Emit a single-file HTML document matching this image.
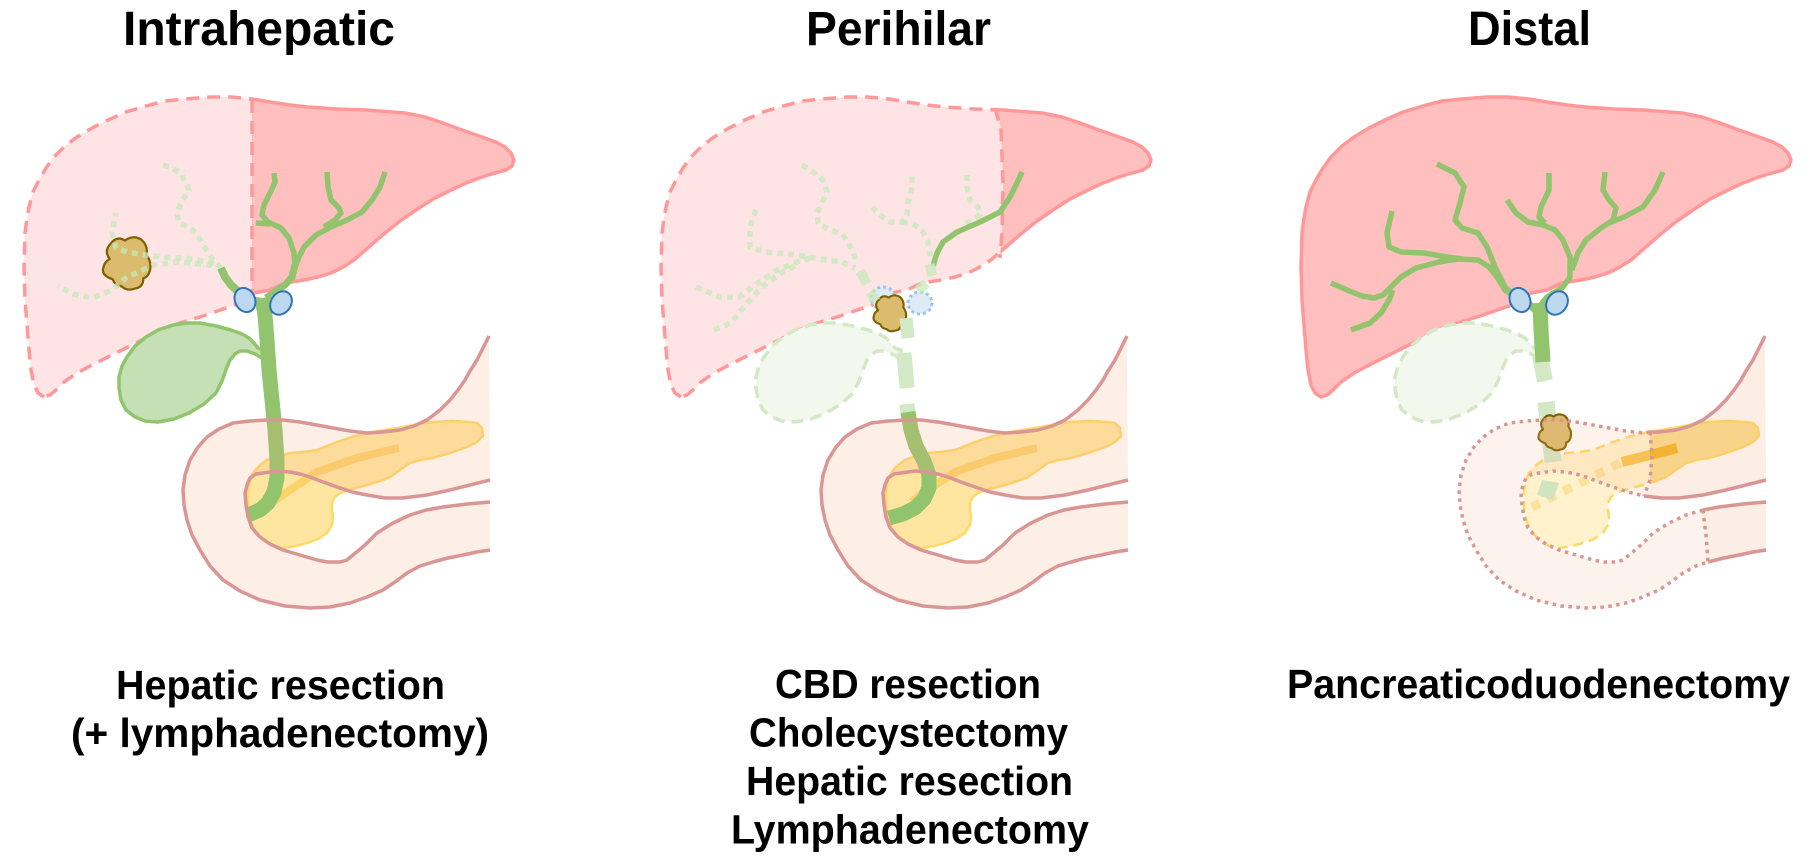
<!DOCTYPE html>
<html><head><meta charset="utf-8">
<style>
html,body{margin:0;padding:0;background:#fff;}
svg{display:block;}
text{font-family:"Liberation Sans",Arial,sans-serif;font-weight:bold;fill:#000;}
</style></head><body>
<svg width="1812" height="862" viewBox="0 0 1812 862" xmlns="http://www.w3.org/2000/svg">
<defs>
<path id="liver" d="M44,397 L38,393 L34,385 L31,370 L29,350 L27,325 L25,300 L24,267 L25,233 L27,218 L29,207 L33,192 L39,180 L46,168 L54,157 L65,146 L77,137 L92,128 L108,120 L126,112 L146,106 L165,101 L185,99 L210,97 L231,97 L252,99 L270,102 L290,105 L308,107 L337,109 L366,110 L405,113 L425,117 L443,123 L462,130 L482,137 L496,142 L505,147 L511,153 L514,160 L512,166 L506,170 L495,173 L482,177 L466,183 L451,190 L433,199 L416,210 L400,221 L385,233 L370,246 L354,260 L343,267 L331,273 L318,277 L304,280 L285,283 L270,290 L254,293 L235,305 L200,317 L180,323 L162,330 L140,341 L116,353 L96,363 L77,373 L64,382 L56,390 L50,395 Z"/>
<path id="gb" d="M264,359 L255,354 L247,351 L240,351 L235,354 L230,360 L227,367 L222,381 L216,393 L204,404 L189,413 L174,419 L158,422 L145,421 L135,417 L126,410 L121,400 L119,388 L119,377 L122,366 L127,357 L135,346 L146,337 L158,330 L173,325 L187,323 L200,323 L216,326 L231,330 L242,334 L249,338 L254,343 L258,348 L264,350 Z"/>
<path id="panc" d="M470,422 L452,421 L433,422 L418,424 L403,427 L385,430 L367,433 L352,437 L337,442 L317,450 L303,452 L290,453 L278,456 L267,460 L259,466 L253,473 L249,483 L248,493 L248,507 L250,520 L255,531 L263,540 L273,546 L283,548 L296,546 L307,543 L318,539 L327,533 L332,525 L333,517 L332,510 L332,503 L335,497 L340,493 L352,489 L367,485 L380,481 L390,477 L400,470 L410,463 L420,460 L433,458 L450,453 L467,447 L477,442 L483,436 L482,428 L477,423 Z"/>
<path id="duoFill" d="M489,336 L484,346 L477,360 L470,371 L465,380 L458,390 L450,400 L440,410 L427,420 L414,426 L400,430 L383,432 L367,433 L350,431 L333,428 L317,425 L300,422 L283,420 L267,420 L250,421 L233,423 L219,429 L207,437 L198,447 L190,460 L185,475 L183,490 L184,505 L187,520 L192,535 L200,550 L210,566 L223,580 L240,591 L260,600 L285,606 L310,608 L330,607 L350,603 L367,597 L383,590 L395,582 L407,573 L420,566 L433,562 L448,558 L463,555 L477,552 L490,550 L490,502 L467,504 L443,507 L426,510 L410,515 L393,523 L377,533 L365,545 L353,555 L347,560 L340,562 L328,562 L317,560 L300,555 L283,550 L270,544 L260,537 L252,528 L248,517 L246,505 L245,493 L247,485 L250,478 L256,474 L263,473 L277,471 L290,472 L300,474 L310,477 L323,482 L337,487 L352,492 L367,495 L385,498 L403,498 L427,495 L450,490 L470,485 L490,480 Z"/>
<path id="duoOuter" d="M489,336 L484,346 L477,360 L470,371 L465,380 L458,390 L450,400 L440,410 L427,420 L414,426 L400,430 L383,432 L367,433 L350,431 L333,428 L317,425 L300,422 L283,420 L267,420 L250,421 L233,423 L219,429 L207,437 L198,447 L190,460 L185,475 L183,490 L184,505 L187,520 L192,535 L200,550 L210,566 L223,580 L240,591 L260,600 L285,606 L310,608 L330,607 L350,603 L367,597 L383,590 L395,582 L407,573 L420,566 L433,562 L448,558 L463,555 L477,552 L490,550"/>
<path id="duoInner" d="M490,502 L467,504 L443,507 L426,510 L410,515 L393,523 L377,533 L365,545 L353,555 L347,560 L340,562 L328,562 L317,560 L300,555 L283,550 L270,544 L260,537 L252,528 L248,517 L246,505 L245,493 L247,485 L250,478 L256,474 L263,473 L277,471 L290,472 L300,474 L310,477 L323,482 L337,487 L352,492 L367,495 L385,498 L403,498 L427,495 L450,490 L470,485 L490,480"/>
<path id="tumor" d="M-16,-19 Q-10,-27 -2,-22 Q6,-28 14,-23 Q21,-17 19,-8 Q25,0 22,9 Q20,14 16,15 Q16,24 8,25 Q0,28 -5,23 Q-12,22 -14,16 Q-26,12 -23,4 Q-22,-1 -17,-4 Q-23,-12 -16,-19 Z"/>
<clipPath id="c1L"><rect x="0" y="0" width="252" height="460"/></clipPath>
<clipPath id="c1R"><rect x="252" y="0" width="320" height="460"/></clipPath>
<clipPath id="c2L"><polygon points="0,0 360,0 360,110 364,130 366,183 365,233 363,258 363,460 0,460"/></clipPath>
<clipPath id="c2R"><polygon points="360,0 600,0 600,460 363,460 363,258 365,233 366,183 364,130 360,110"/></clipPath>
<clipPath id="c3tail"><rect x="374" y="300" width="200" height="400"/></clipPath>
<clipPath id="c3head"><rect x="0" y="300" width="374" height="400"/></clipPath>
<clipPath id="c3rem"><polygon points="374,300 520,300 520,620 433,620 432,562 430,535 427,510 368,498 376,467 374,432"/></clipPath>
</defs>

<!-- ================= TITLES ================= -->
<text x="123" y="45" font-size="48" textLength="272" lengthAdjust="spacingAndGlyphs">Intrahepatic</text>
<text x="806" y="45" font-size="48" textLength="185" lengthAdjust="spacingAndGlyphs">Perihilar</text>
<text x="1468" y="45" font-size="48" textLength="123" lengthAdjust="spacingAndGlyphs">Distal</text>

<!-- ================= PANEL 1 ================= -->
<g>
  <use href="#liver" fill="#fee4e4" clip-path="url(#c1L)"/>
  <use href="#liver" fill="#ffbfbf" clip-path="url(#c1R)"/>
  <use href="#liver" fill="none" stroke="#ff9999" stroke-width="3.5" stroke-dasharray="13 8" clip-path="url(#c1L)"/>
  <use href="#liver" fill="none" stroke="#ff9999" stroke-width="3.5" stroke-linejoin="round" clip-path="url(#c1R)"/>
  <line x1="252" y1="100" x2="252" y2="292" stroke="#ff9999" stroke-width="3.5" stroke-dasharray="13 8"/>
</g>
<use href="#gb" fill="#c5e0b4" stroke="#92c46d" stroke-width="3.5" stroke-linejoin="round"/>
<!-- tumor p1 -->
<use href="#tumor" transform="translate(127,263) scale(1.02)" fill="#dbbb6e" stroke="#7f6000" stroke-width="2.2" stroke-linejoin="round"/>
<!-- dotted ducts p1 -->
<g fill="none" stroke="#c6e9bb" stroke-opacity="0.75" stroke-width="5.5" stroke-dasharray="6 5" stroke-linejoin="round">
  <path d="M221,268 L216,263 L208,253 L196,233 L189,227 L179,223 L177,213 L181,203 L187,193 L189,190 L181,173 L170,167 L162,165"/>
  <path d="M214,263 L185,258 L162,257 L146,255 L127,252 L116,248 L112,233 L116,213"/>
  <path d="M212,265 L177,262 L154,265 L127,277 L112,290 L92,298 L73,294 L58,286"/>
</g>
<!-- pancreas p1 -->
<use href="#panc" fill="#ffe6a0" stroke="#ffd966" stroke-width="2.5"/>
<path d="M399,448 L357,458 L317,472 L290,490 L273,502" fill="none" stroke="#fcd36a" stroke-width="8"/>
<!-- solid ducts p1 -->
<g fill="none" stroke="#92c46d" stroke-linejoin="round">
  <path stroke-width="5.5" d="M274,173 L275,182 L270,193 L264,205 L262,215 L268,222 L281,228 L289,238 L294,253 L295,267"/>
  <path stroke-width="5.5" d="M256,223 L270,224"/>
  <path stroke-width="5.5" d="M327,172 L328,187 L331,200 L339,208 L341,213 L335,220 L324,227"/>
  <path stroke-width="5.5" d="M385,172 L380,187 L372,200 L362,212 L347,220 L331,227 L316,235 L304,247 L299,257 L295,267"/>
  <path stroke-width="7" d="M295,265 L292,277 L285,285 L276,291 L266,298"/>
  <path stroke-width="8" d="M221,268 L225,277 L231,285 L241,294 L252,300 L262,302"/>
  <path stroke-width="15" d="M262,298 L265,315 L267,340 L269,370 L272,400 L275,430 L277,460 L277,478 L274,492 L268,503 L260,510 L248,515"/>
</g>
<!-- duodenum p1 -->
<use href="#duoFill" fill="#f4b183" fill-opacity="0.2"/>
<use href="#duoOuter" fill="none" stroke="#d99694" stroke-width="3.5" stroke-linejoin="round"/>
<use href="#duoInner" fill="none" stroke="#d99694" stroke-width="3.5" stroke-linejoin="round"/>
<!-- ellipses p1 -->
<ellipse cx="245" cy="300" rx="10" ry="12.5" transform="rotate(-25 245 300)" fill="#bdd7ee" stroke="#2e75b6" stroke-width="2"/>
<ellipse cx="281" cy="303" rx="10" ry="12.5" transform="rotate(35 281 303)" fill="#bdd7ee" stroke="#2e75b6" stroke-width="2"/>

<!-- ================= PANEL 2 ================= -->
<g transform="translate(637,0)">
  <use href="#liver" fill="#fee4e4" clip-path="url(#c2L)"/>
  <use href="#liver" fill="#ffbfbf" clip-path="url(#c2R)"/>
  <use href="#liver" fill="none" stroke="#ff9999" stroke-width="3.5" stroke-dasharray="13 8" clip-path="url(#c2L)"/>
  <use href="#liver" fill="none" stroke="#ff9999" stroke-width="3.5" stroke-linejoin="round" clip-path="url(#c2R)"/>
  <path d="M358,108 L364,130 L366,183 L365,233 L363,258" fill="none" stroke="#ff9999" stroke-width="3.5" stroke-dasharray="13 8"/>
  <use href="#gb" fill="#f3f8ef" stroke="#d3e8c4" stroke-width="3.5" stroke-dasharray="12 7"/>
</g>
<!-- dotted ducts p2 -->
<g fill="none" stroke="#c6e9bb" stroke-opacity="0.75" stroke-width="5.5" stroke-dasharray="6 5" stroke-linejoin="round">
  <path d="M802,165 L813,172 L823,180 L827,192 L822,203 L817,213 L818,223 L830,230 L842,234 L848,242 L853,252 L857,263"/>
  <path d="M756,210 L750,227 L750,247 L766,252 L797,255 L820,259 L842,262 L855,268"/>
  <path d="M696,287 L720,297 L739,297 L758,283 L777,270 L797,262 L810,258"/>
  <path d="M714,330 L731,323 L747,303 L762,287 L781,273 L797,265"/>
  <path d="M872,207 L880,215 L890,222 L902,222 L907,215 L908,203 L912,187 L912,175"/>
  <path d="M902,222 L915,225 L923,232 L928,242 L930,253 L931,262"/>
  <path d="M967,175 L967,187 L970,200 L978,207 L980,215 L973,220 L965,224"/>
</g>
<path d="M1022,172 L1016,185 L1010,197 L1000,212 L980,222 L957,232 L943,242 L937,253 L933,266" fill="none" stroke="#92c46d" stroke-width="5.5" stroke-linejoin="round"/>
<!-- dotted ellipses p2 -->
<ellipse cx="883" cy="298" rx="12" ry="11" fill="#deebf7" stroke="#9dc3e6" stroke-width="3" stroke-dasharray="3 3"/>
<ellipse cx="920" cy="303" rx="12" ry="11" fill="#deebf7" stroke="#9dc3e6" stroke-width="3" stroke-dasharray="3 3"/>
<!-- tumor p2 -->
<use href="#tumor" transform="translate(890,313) scale(0.7)" fill="#dbbb6e" stroke="#7f6000" stroke-width="3" stroke-linejoin="round"/>
<!-- light thick segments p2 -->
<g stroke="#c6e9bb" stroke-opacity="0.75" fill="none">
  <path stroke-width="10" d="M860,271 L867,284"/>
  <path stroke-width="10" d="M930,264 L932,276"/>
  <path stroke-width="10" d="M926,283 L918,291"/>
  <path stroke-width="10" d="M870,292 L876,301"/>
</g>
<g stroke="#d3e8c4" fill="none">
  <path stroke-width="13" d="M906,318 L908,338"/>
  <path stroke-width="15" d="M904,353 L907,388"/>
  <path stroke-width="15" d="M907,404 L908,414"/>
</g>
<!-- pancreas p2 -->
<g transform="translate(638,0)">
  <use href="#panc" fill="#ffe6a0" stroke="#ffd966" stroke-width="2.5"/>
  <path d="M399,448 L357,458 L317,472 L290,490 L273,502" fill="none" stroke="#fcd36a" stroke-width="8"/>
</g>
<path d="M908,412 L911,430 L916,446 L924,461 L929,475 L929,488 L924,499 L915,508 L903,514 L889,518" fill="none" stroke="#92c46d" stroke-width="15" stroke-linejoin="round"/>
<g transform="translate(638,0)">
  <use href="#duoFill" fill="#f4b183" fill-opacity="0.2"/>
  <use href="#duoOuter" fill="none" stroke="#d99694" stroke-width="3.5" stroke-linejoin="round"/>
  <use href="#duoInner" fill="none" stroke="#d99694" stroke-width="3.5" stroke-linejoin="round"/>
</g>

<!-- ================= PANEL 3 ================= -->
<g transform="translate(1277,0)">
  <use href="#liver" fill="#ffbfbf" stroke="#ff9999" stroke-width="3.5" stroke-linejoin="round"/>
</g>
<g fill="none" stroke="#92c46d" stroke-width="5.5" stroke-linejoin="round">
  <path d="M1331,283 L1347,290 L1362,296 L1374,298 L1383,295 L1391,287 L1401,277 L1416,268 L1439,262 L1458,259 L1478,260 L1489,267 L1497,277 L1505,290 L1516,298"/>
  <path d="M1351,330 L1370,323 L1381,313 L1389,300 L1393,290"/>
  <path d="M1392,211 L1387,233 L1389,247 L1401,252 L1424,253 L1447,257 L1462,259"/>
  <path d="M1437,164 L1455,173 L1464,187 L1460,203 L1455,220 L1462,228 L1478,233 L1487,247 L1495,267 L1505,287 L1516,297"/>
  <path d="M1507,200 L1516,213 L1528,222 L1543,225 L1555,230 L1563,240 L1570,257 L1570,277 L1563,287 L1547,297 L1539,307"/>
  <path d="M1549,173 L1549,190 L1541,207 L1539,217 L1545,223"/>
  <path d="M1605,172 L1603,190 L1609,200 L1616,208 L1613,220 L1601,228 L1586,240 L1578,253 L1572,270"/>
  <path d="M1663,172 L1655,190 L1643,207 L1624,217 L1609,223"/>
  <path stroke-width="7" d="M1516,297 L1528,303 L1537,312"/>
</g>
<g transform="translate(1276,0)">
  <use href="#gb" fill="#f3f8ef" stroke="#d3e8c4" stroke-width="3.5" stroke-dasharray="12 7"/>
</g>
<!-- pancreas p3 -->
<g transform="translate(1276,0)">
  <use href="#panc" fill="#fff2cc"/>
  <use href="#panc" fill="#fbdf8c" clip-path="url(#c3tail)"/>
  <use href="#panc" fill="none" stroke="#ffd966" stroke-width="2.5" stroke-dasharray="10 6" clip-path="url(#c3head)"/>
  <use href="#panc" fill="none" stroke="#ffd966" stroke-width="2.5" clip-path="url(#c3tail)"/>
</g>
<path d="M1620,463 L1532,507" fill="none" stroke="#fde29a" stroke-width="9" stroke-dasharray="9 9"/>
<path d="M1622,462 L1650,455" fill="none" stroke="#f7c64a" stroke-width="10"/>
<path d="M1650,455 L1677,448" fill="none" stroke="#f2b51c" stroke-width="10"/>
<!-- CBD p3 -->
<path d="M1540,356 L1545,381" stroke="#d3e8c4" stroke-width="16" fill="none"/>
<path d="M1546,402 L1553,462" stroke="#d3e8c4" stroke-width="17" fill="none"/>
<polygon points="1542,480 1559,483 1553,500 1537,495" fill="#cfe5c0"/>
<path d="M1540,303 L1541,330 L1543,362" stroke="#92c46d" stroke-width="15" fill="none"/>
<ellipse cx="1520" cy="300" rx="10" ry="12.5" transform="rotate(-25 1520 300)" fill="#bdd7ee" stroke="#2e75b6" stroke-width="2"/>
<ellipse cx="1557" cy="303" rx="10" ry="12.5" transform="rotate(35 1557 303)" fill="#bdd7ee" stroke="#2e75b6" stroke-width="2"/>
<use href="#tumor" transform="translate(1555,432) scale(0.7)" fill="#dbbb6e" stroke="#7f6000" stroke-width="3" stroke-linejoin="round"/>
<!-- duodenum p3 -->
<g transform="translate(1276,0)" fill="none" stroke="#d99694" stroke-width="3.5" stroke-linejoin="round">
  <use href="#duoFill" stroke="none" fill="#f4b183" fill-opacity="0.15"/>
  <use href="#duoFill" stroke="none" fill="#f4b183" fill-opacity="0.07" clip-path="url(#c3rem)"/>
  <path d="M489,336 L484,346 L477,360 L470,371 L465,380 L458,390 L450,400 L440,410 L427,420 L414,426 L400,430 L383,432 L374,432"/>
  <path d="M432,562 L448,558 L463,555 L477,552 L490,550"/>
  <path d="M490,502 L467,504 L443,507 L427,510"/>
  <path d="M368,496 L385,498 L403,498 L427,495 L450,490 L470,485 L490,480"/>
  <g stroke-dasharray="3.5 4.5">
    <path d="M374,432 L367,433 L350,431 L333,428 L317,425 L300,422 L283,420 L267,420 L250,421 L233,423 L219,429 L207,437 L198,447 L190,460 L185,475 L183,490 L184,505 L187,520 L192,535 L200,550 L210,566 L223,580 L240,591 L260,600 L285,606 L310,608 L330,607 L350,603 L367,597 L383,590 L395,582 L407,573 L420,566 L432,562"/>
    <path d="M427,510 L410,515 L393,523 L377,533 L365,545 L353,555 L347,560 L340,562 L328,562 L317,560 L300,555 L283,550 L270,544 L260,537 L252,528 L248,517 L246,505 L245,493 L247,485 L250,478 L256,474 L263,473 L277,471 L290,472 L300,474 L310,477 L323,482 L337,487 L352,492 L368,496"/>
    <path d="M374,432 L376,455 L374,480 L368,496"/>
    <path d="M427,510 L430,535 L432,562"/>
  </g>
</g>

<!-- ================= LABELS ================= -->
<text x="116" y="699" font-size="41" textLength="329" lengthAdjust="spacingAndGlyphs">Hepatic resection</text>
<text x="71" y="747" font-size="41" textLength="418" lengthAdjust="spacingAndGlyphs">(+ lymphadenectomy)</text>

<text x="775" y="698" font-size="41" textLength="266" lengthAdjust="spacingAndGlyphs">CBD resection</text>
<text x="749" y="746.5" font-size="41" textLength="319" lengthAdjust="spacingAndGlyphs">Cholecystectomy</text>
<text x="746" y="795" font-size="41" textLength="327" lengthAdjust="spacingAndGlyphs">Hepatic resection</text>
<text x="731" y="843.5" font-size="41" textLength="358" lengthAdjust="spacingAndGlyphs">Lymphadenectomy</text>

<text x="1287" y="698" font-size="41" textLength="503" lengthAdjust="spacingAndGlyphs">Pancreaticoduodenectomy</text>
</svg>
</body></html>
